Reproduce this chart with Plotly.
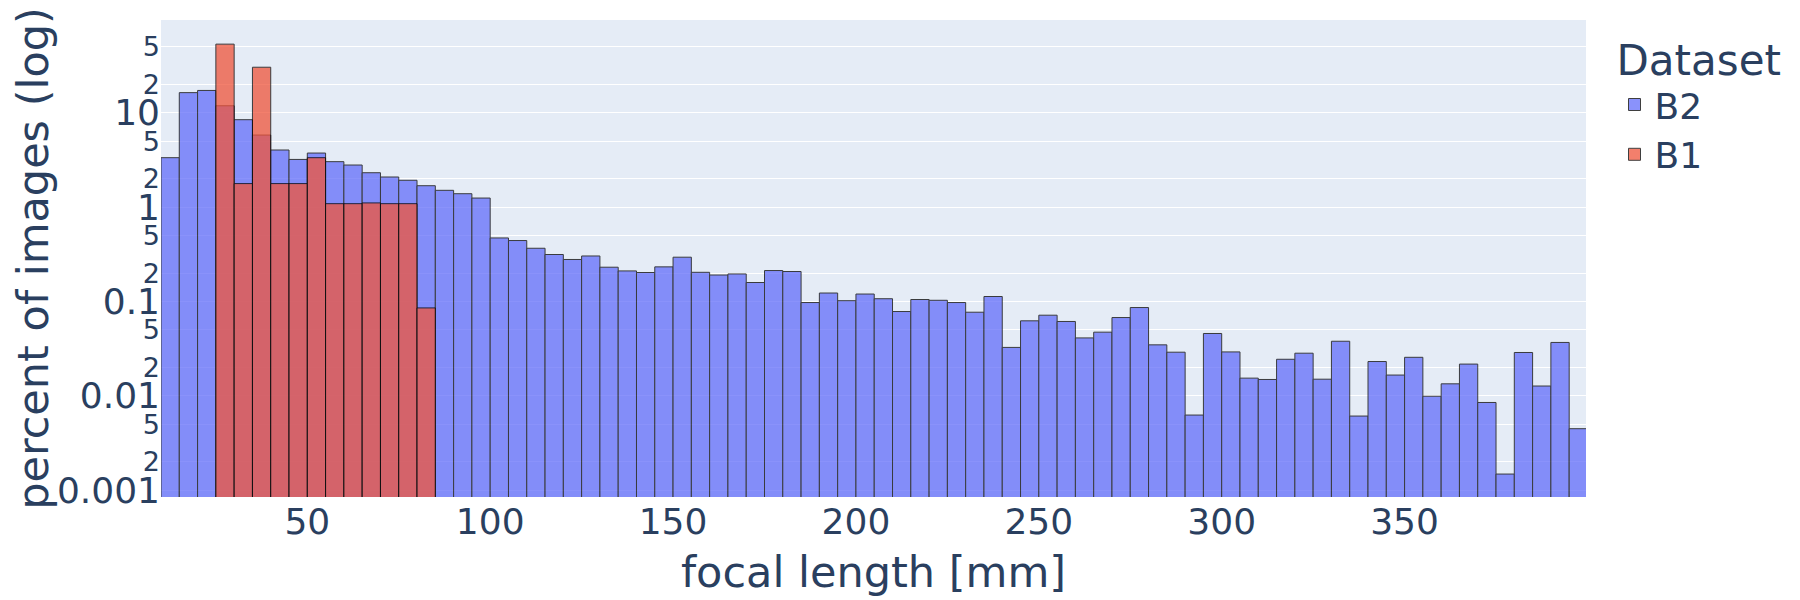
import plotly.graph_objects as go

# histogram bins (left edges, width 5 mm)
bin_width = 5
b2_bins = list(range(10, 400, bin_width))
b1_bins = list(range(25, 85, bin_width))

# percent of images per bin
b2_percent = [
    3.35, 16.4, 17.3, 11.9, 8.47, 5.82, 4.04, 3.21, 3.75, 3.04,
    2.80, 2.32, 2.09, 1.93, 1.69, 1.51, 1.39, 1.25,
    0.472, 0.443, 0.367, 0.315, 0.279, 0.304, 0.231, 0.211, 0.203, 0.233,
    0.295, 0.204, 0.191, 0.196, 0.159, 0.213, 0.208, 0.0975, 0.123, 0.102,
    0.120, 0.107, 0.0783, 0.105, 0.103, 0.0975, 0.077, 0.113, 0.0326, 0.0624,
    0.0716, 0.0614, 0.0411, 0.0473, 0.0676, 0.0863, 0.0347, 0.0290, 0.00625, 0.0458,
    0.0292, 0.0154, 0.0149, 0.0244, 0.0283, 0.0150, 0.0379, 0.0061, 0.0231, 0.0166,
    0.0256, 0.0099, 0.0134, 0.0217, 0.0085, 0.00148, 0.0288, 0.0127, 0.0368, 0.00448,
]
b1_percent = [53.6, 1.78, 30.5, 1.78, 1.78, 3.35, 1.09, 1.09, 1.11, 1.09, 1.09, 0.0855]

font = 'DejaVu Sans'

fig = go.Figure()
fig.add_trace(go.Bar(x=b2_bins, y=b2_percent, name='B2', offset=0, width=bin_width,
                     marker=dict(color='#636efa', line=dict(color='black', width=1)),
                     opacity=0.75))
fig.add_trace(go.Bar(x=b1_bins, y=b1_percent, name='B1', offset=0, width=bin_width,
                     marker=dict(color='#EF553B', line=dict(color='black', width=1)),
                     opacity=0.75))

fig.update_layout(
    template='plotly',
    barmode='overlay',
    width=1800, height=600,
    margin=dict(l=153, r=222, t=12, b=111),
    font=dict(family=font, size=36, color='#2a3f5f'),
    legend=dict(title=dict(text='Dataset', font=dict(size=42)), font=dict(size=36)),
)
fig.update_xaxes(title=dict(text='focal length [mm]', font=dict(size=43)),
                 range=[10, 399.6], tick0=0, dtick=50, automargin=False)
fig.update_yaxes(title=dict(text='percent of images (log)', font=dict(size=43)),
                 type='log', range=[-3.073, 1.985], dtick='D2', automargin=False)

fig.write_html('out.html')
